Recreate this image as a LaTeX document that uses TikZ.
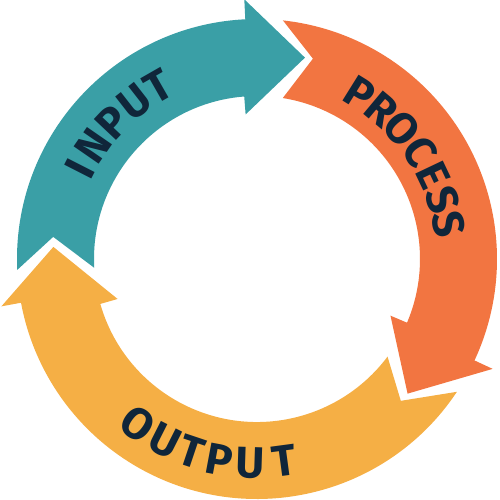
\documentclass[tikz,border=0pt]{standalone}
\usepackage{fontspec}
\setmainfont{Fira Sans}
\usepackage{tikz}

\definecolor{inputteal}{HTML}{3A9FA6}
\definecolor{processorange}{HTML}{F27541}
\definecolor{outputyellow}{HTML}{F5AF45}
\definecolor{labelnavy}{HTML}{10263A}

\tikzset{
	letter/.style={inner sep=0pt, text=labelnavy,
		font=\fontsize{44}{44}\selectfont\bfseries},
}

\begin{document}
\begin{tikzpicture}
	\def \rin {163pt}
	\def \rout {240pt}
	\def \hin {145pt}
	\def \hout {260pt}

	\useasboundingbox (-257pt,-241pt) rectangle (242pt,259pt);

	\node[] (hub) at (0:0pt) {};

	% input arrow
	\fill[inputteal] (182.6:\rout) arc[start angle=182.6, end angle=92.8, radius=\rout]
		-- (92.8:\hout) -- (76.6:207pt) -- (94.5:\hin) -- (94.5:\rin)
		arc[start angle=94.5, end angle=183.1, radius=\rin]
		-- (173.8:205pt) -- cycle;

	% process arrow
	\fill[processorange] (83.8:\rout) arc[start angle=83.8, end angle=-25, radius=\rout]
		-- (-25:\hout) -- (-41.8:202pt) -- (-23:\hin) -- (-23:\rin)
		arc[start angle=-23, end angle=80.9, radius=\rin]
		-- (74.4:208pt) -- cycle;

	% output arrow
	\fill[outputyellow] (-33.6:\rout) arc[start angle=-33.6, end angle=-169.5, radius=\rout]
		-- (-169.5:\hout) -- (-183.4:204pt) -- (-164:\hin) -- (-164:\rin)
		arc[start angle=-164, end angle=-36.8, radius=\rin]
		-- (-44.6:202pt) -- cycle;

	% labels
	\foreach \ch/\ang [count=\i] in {I/153.0, N/145.3, P/136.7, U/128.0, T/119.8}
		\node[letter, rotate=\ang-90] (input\i) at (\ang:199pt) {\ch};
	\foreach \ch/\ang [count=\i] in {P/58.1, R/50.1, O/41.8, C/33.4, E/25.4, S/17.7, S/10.2}
		\node[letter, rotate=\ang-90] (process\i) at (\ang:195pt) {\ch};
	\foreach \ch/\ang [count=\i] in {O/-125.8, U/-116.8, T/-108.6, P/-100.6, U/-91.8, T/-82.4}
		\node[letter, rotate=\ang+90] (output\i) at (\ang:204pt) {\ch};
\end{tikzpicture}
\end{document}
